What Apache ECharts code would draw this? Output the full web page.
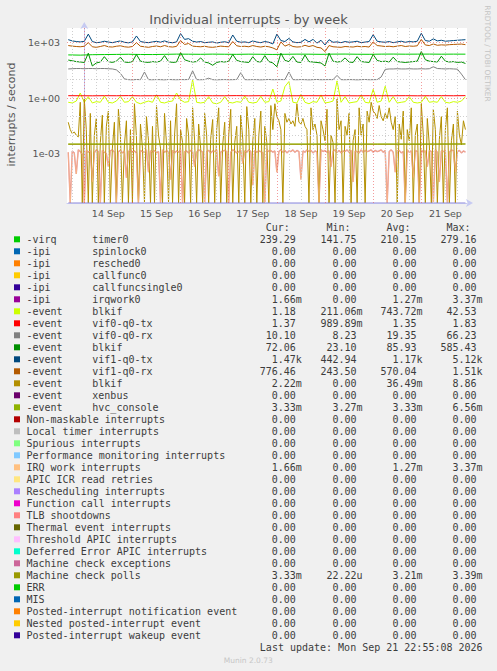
<!DOCTYPE html>
<html>
<head>
<meta charset="utf-8">
<script src="https://cdn.jsdelivr.net/npm/echarts@6/dist/echarts.min.js"></script>
<style>
html, body { margin: 0; padding: 0; background: #f0f0f0; }
#chart { width: 497px; height: 671px; }
</style>
</head>
<body>
<div id="chart"></div>
<script>
// x is hours counted from 14 Sep 00:00, every series starts at X_START
const X_START = -8
const dayLabels = ['14 Sep', '15 Sep', '16 Sep', '17 Sep', '18 Sep', '19 Sep', '20 Sep', '21 Sep']
const yTickValues = [1e-3, 1, 1e3]
const yTickLabels = ['1e-03', '1e+00', '1e+03']

// 6 h step
const timer0 = [218, 212, 224, 228, 232, 236, 230, 228, 234, 240, 238, 235, 240, 237, 234, 239, 236,
  231, 236, 240, 238, 234, 240, 242, 237, 235, 240, 242, 238, 240, 241, 238, 240, 239]
const vif0Tx = [1.36, 1.35, 1.34, 1.36, 1.35, 1.37, 1.34, 1.35, 1.36, 1.35, 1.34, 1.36, 1.35, 1.35, 1.37,
  1.34, 1.36, 1.35, 1.34, 1.35, 1.36, 1.35, 1.37, 1.35, 1.34, 1.36, 1.35, 1.35, 1.36, 1.34, 1.35, 1.36, 1.35, 1.37]
// 22 h step
const hvcConsole = [0.00333, 0.00333, 0.00334, 0.00333, 0.00333, 0.00332, 0.00333, 0.00333, 0.00334, 0.00333]
const mcPolls = [0.00321, 0.00322, 0.00321, 0.0032, 0.00322, 0.00321, 0.00321, 0.00322, 0.00321, 0.00333]
// 198 h step (one line at zero)
const postedWakeup = [0, 0]

// 2 h step
const vif1Tx = [1450, 1250, 1150, 1100, 1180, 2900, 1150, 1000, 1050, 1200,
  1080, 1000, 1120, 1250, 1050, 980, 1100, 2300, 1150, 1050,
  1000, 1100, 1180, 1060, 1250, 1050, 990, 1100, 3100, 1500,
  1650, 1200, 1080, 1150, 1000, 1050, 1100, 950, 1050, 1120,
  1000, 2600, 1200, 1050, 1100, 1000, 1250, 1080, 1000, 1150,
  1050, 850, 2900, 1300, 1150, 1700, 1100, 1000, 1050, 1500,
  1100, 1500, 950, 1350, 750, 1450, 1050, 1100, 1000, 1150,
  1050, 1100, 1200, 1000, 1080, 1150, 2700, 1200, 1100, 1050,
  1150, 1000, 1100, 1200, 1050, 1150, 1100, 1200, 3200, 1300,
  1200, 1600, 1250, 1350, 1200, 1250, 1300, 1350, 1400, 1450]
const vif1Rx = [700, 650, 620, 600, 640, 1000, 600, 560, 620, 700,
  600, 580, 640, 680, 600, 570, 620, 1000, 640, 600,
  560, 620, 660, 600, 700, 610, 580, 630, 1300, 800,
  900, 650, 620, 600, 640, 580, 560, 600, 650, 620,
  600, 1150, 680, 620, 640, 600, 700, 620, 580, 640,
  600, 520, 410, 1100, 650, 800, 620, 580, 600, 720,
  620, 700, 560, 520, 330, 700, 600, 580, 560, 620,
  600, 580, 640, 600, 620, 580, 1100, 700, 660, 620,
  640, 600, 650, 700, 620, 660, 640, 680, 1500, 750,
  700, 850, 720, 760, 740, 780, 800, 820, 840, 780]
const blkifGreen = [115, 105, 95, 90, 85, 270, 55, 80, 90, 175,
  95, 85, 100, 165, 90, 85, 95, 230, 100, 90,
  85, 95, 90, 100, 200, 95, 85, 90, 290, 120,
  100, 90, 95, 150, 90, 80, 60, 85, 95, 90,
  100, 230, 110, 95, 90, 85, 175, 95, 90, 200,
  95, 80, 50, 270, 110, 95, 180, 90, 85, 215,
  95, 90, 85, 80, 55, 270, 100, 90, 95, 150,
  90, 85, 175, 95, 90, 85, 230, 110, 95, 100,
  90, 165, 95, 90, 85, 90, 95, 100, 330, 120,
  100, 95, 90, 185, 100, 90, 95, 85, 90, 75]
const vif0Rx = [38, 39, 40, 40, 39, 40, 40, 39, 40, 40,
  39, 38, 34, 22, 11, 10, 9.8, 10.2, 10, 26,
  10, 9.9, 10.1, 10, 9.8, 10.2, 10, 9.9, 10.1, 10,
  10.2, 30, 10, 9.9, 10.1, 12, 10, 9.8, 10, 10.1,
  9.9, 10, 10.2, 24, 10, 9.9, 10.1, 10, 9.8, 10,
  10.2, 9.9, 10, 10.1, 10, 26, 10, 9.9, 10.1, 10,
  9.8, 10, 10.2, 9.9, 10, 10.1, 10, 17, 10, 9.9,
  10.1, 10, 9.8, 10, 10.2, 9.9, 10, 10.1, 14, 36,
  38, 38, 39, 38, 38, 39, 38, 38, 39, 38,
  39, 50, 40, 39, 38, 39, 38, 37, 20, 10]
const blkifLime = [0.6, 0.55, 0.7, 1.9, 0.6, 1.2, 0.55, 0.65, 0.6, 1.3,
  0.6, 0.55, 0.7, 1.25, 0.6, 0.65, 1.2, 0.6, 0.5, 0.6,
  0.7, 0.6, 1.6, 0.6, 0.55, 0.65, 0.7, 1.9, 0.8, 0.6,
  0.65, 10, 0.6, 0.55, 0.6, 1.2, 0.55, 0.5, 0.6, 1.2,
  0.6, 0.55, 0.65, 0.6, 1.3, 0.6, 0.55, 0.6, 1.25, 0.6,
  0.65, 3.1, 0.6, 0.7, 4.2, 7.9, 0.6, 0.55, 1.6, 0.6,
  0.5, 0.65, 0.6, 1.5, 0.55, 0.6, 0.7, 8.6, 0.6, 1.2,
  0.55, 0.6, 0.65, 1.5, 0.6, 0.55, 3.0, 0.6, 0.7, 4.4,
  0.6, 1.2, 0.55, 0.6, 0.65, 1.2, 0.6, 0.55, 0.6, 1.25,
  0.6, 0.65, 0.6, 1.2, 0.6, 0.55, 0.65, 0.6, 0.7, 1.2]

// 1 h step
const blkifGold = [0.05, 0.02, 0.012, 0.015, 0.01, 0.008, 0.6, 0, 0.9, 0.02,
  0, 0.15, 0, 0.01, 0.08, 0, 0.004, 0.12, 0, 0.03,
  0.2, 0, 0.002, 0.05, 0, 0.25, 0.01, 0, 0.003, 0.06,
  0, 0.02, 0, 0.5, 0.008, 0, 0.04, 0.002, 0, 0.1,
  0.005, 0, 0.03, 0, 0.4, 0.01, 0.002, 0, 0.15, 0.003,
  0, 0.06, 0, 0.01, 0.5, 0, 0.02, 0.004, 0, 0.08,
  0.01, 0, 0.3, 0.005, 0, 0.04, 0.002, 0, 0.15, 0.01,
  0, 0.006, 0.07, 0, 0.02, 0.3, 0, 0.003, 0.05, 0,
  0.01, 0.25, 0, 0.004, 0.03, 0, 0.12, 0.006, 0, 0.35,
  0.02, 0, 0.005, 0.08, 0, 0.01, 0.2, 0, 0.03, 0.004,
  0, 0.4, 0.02, 0.5, 0.1, 0.06, 0.02, 0, 0.15, 0.05,
  0.08, 0.04, 0.06, 0.03, 0.5, 0.05, 0.04, 0.08, 0.03, 0.02,
  0, 0.3, 0.02, 0.04, 0.01, 0, 0.06, 0.02, 0.005, 0.25,
  0, 0.01, 0.004, 0, 0.9, 0.02, 0.06, 0, 0.03, 0.01,
  0.15, 0, 0.005, 0.02, 0, 0.3, 0.01, 0.04, 0, 0.2,
  0.05, 0.6, 0.2, 0.15, 0.08, 0.4, 0.1, 0.06, 0.15, 0.08,
  0.3, 0.05, 0.02, 0.1, 0, 0.04, 0.006, 0.2, 0, 0.02,
  0.005, 0.3, 0, 0.01, 0.04, 0, 0.5, 0.01, 0, 0.08,
  0.003, 0, 0.25, 0.02, 0, 0.006, 0.1, 0, 0.02, 0.3,
  0, 0.005, 0.04, 0, 0.2, 0.01, 0.003, 0.06, 0.02]
const irqWork = [0.0012, 0, 0.0014, 0.0011, 0.00008, 0.0016, 0.0013, 0.0009, 0, 0.0015,
  0.0012, 0.0014, 0.00003, 0.0011, 0.0016, 0.0013, 0, 0.0015, 0.0012, 0.001,
  0.0002, 0.0014, 0.0016, 0.0012, 0, 0.0013, 0.0015, 0.0011, 0.0014, 0.00005,
  0.0013, 0.0016, 0.0012, 0.0014, 0.0011, 0, 0.0015, 0.0013, 0.0012, 0.0016,
  0.0001, 0.0014, 0.0012, 0.0015, 0.0011, 0.0013, 0, 0.0016, 0.0012, 0.0014,
  0.0013, 0.00004, 0.0015, 0.0011, 0.0014, 0.0012, 0.0016, 0, 0.0013, 0.0014,
  0.0011, 0.0015, 0.0013, 0.0002, 0.0012, 0.0016, 0.0014, 0.0012, 0, 0.0013,
  0.0015, 0.0011, 0.0014, 0.0013, 0.0016, 0.00006, 0.0012, 0.0014, 0.0015, 0.0013,
  0, 0.0012, 0.0016, 0.0014, 0.0011, 0.0013, 0.0015, 0.0003, 0.0014, 0.0012,
  0.0016, 0.0013, 0.00002, 0.0015, 0.0012, 0.0014, 0.0013, 0.0011, 0, 0.0016,
  0.0013, 0.0015, 0.0012, 0.0014, 0.0001, 0.0013, 0.0016, 0.0012, 0.0015, 0.0011,
  0.0014, 0.0013, 0.0016, 0.0012, 0.0015, 0.0013, 0.00004, 0.0014, 0.0012, 0.0016,
  0.0013, 0.0015, 0.0011, 0.0014, 0.0012, 0, 0.0016, 0.0013, 0.0015, 0.0012,
  0.0014, 0.0002, 0.0013, 0.0016, 0.0012, 0.0015, 0.0011, 0.0014, 0.0013, 0.0016,
  0.0012, 0.0015, 0.00003, 0.0014, 0.0013, 0.0011, 0.0016, 0.0012, 0.0015, 0.0013,
  0.0014, 0.0016, 0.0012, 0.0015, 0.0013, 0.0014, 0.0016, 0.0012, 0.0015, 0,
  0.0013, 0.0016, 0.0012, 0.0001, 0.0014, 0.0015, 0.0011, 0.0013, 0, 0.0016,
  0.0012, 0.0014, 0.00005, 0.0015, 0.0013, 0, 0.0016, 0.0012, 0.0014, 0.0002,
  0.0015, 0.0013, 0, 0.0016, 0.0012, 0.00003, 0.0014, 0.0013, 0.0015, 0,
  0.0012, 0.0016, 0.0014, 0.0001, 0.0013, 0.0015, 0.0011, 0.0014, 0.0012]

// legend table
const legendGroups = ['-virq', '-ipi', '-ipi', '-ipi', '-ipi', '-ipi', '-event', '-event', '-event', '-event',
  '-event', '-event', '-event', '-event', '-event']
const legendNames = ['timer0', 'spinlock0', 'resched0', 'callfunc0', 'callfuncsingle0', 'irqwork0',
  'blkif', 'vif0-q0-tx', 'vif0-q0-rx', 'blkif', 'vif1-q0-tx', 'vif1-q0-rx', 'blkif', 'xenbus', 'hvc_console',
  'Non-maskable interrupts', 'Local timer interrupts', 'Spurious interrupts', 'Performance monitoring interrupts',
  'IRQ work interrupts', 'APIC ICR read retries', 'Rescheduling interrupts', 'Function call interrupts',
  'TLB shootdowns', 'Thermal event interrupts', 'Threshold APIC interrupts', 'Deferred Error APIC interrupts',
  'Machine check exceptions', 'Machine check polls', 'ERR', 'MIS', 'Posted-interrupt notification event',
  'Nested posted-interrupt event', 'Posted-interrupt wakeup event']
const curValues = ['239.29', '0.00', '0.00', '0.00', '0.00', '1.66m', '1.18', '1.37', '10.10', '72.06',
  '1.47k', '776.46', '2.22m', '0.00', '3.33m', '0.00', '0.00', '0.00', '0.00', '1.66m',
  '0.00', '0.00', '0.00', '0.00', '0.00', '0.00', '0.00', '0.00', '3.33m', '0.00', '0.00', '0.00', '0.00', '0.00']
const minValues = ['141.75', '0.00', '0.00', '0.00', '0.00', '0.00', '211.06m', '989.89m', '8.23', '23.10',
  '442.94', '243.50', '0.00', '0.00', '3.27m', '0.00', '0.00', '0.00', '0.00', '0.00',
  '0.00', '0.00', '0.00', '0.00', '0.00', '0.00', '0.00', '0.00', '22.22u', '0.00', '0.00', '0.00', '0.00', '0.00']
const avgValues = ['210.15', '0.00', '0.00', '0.00', '0.00', '1.27m', '743.72m', '1.35', '19.35', '85.93',
  '1.17k', '570.04', '36.49m', '0.00', '3.33m', '0.00', '0.00', '0.00', '0.00', '1.27m',
  '0.00', '0.00', '0.00', '0.00', '0.00', '0.00', '0.00', '0.00', '3.21m', '0.00', '0.00', '0.00', '0.00', '0.00']
const maxValues = ['279.16', '0.00', '0.00', '0.00', '0.00', '3.37m', '42.53', '1.83', '66.23', '585.43',
  '5.12k', '1.51k', '8.86', '0.00', '6.56m', '0.00', '0.00', '0.00', '0.00', '3.37m',
  '0.00', '0.00', '0.00', '0.00', '0.00', '0.00', '0.00', '0.00', '3.39m', '0.00', '0.00', '0.00', '0.00', '0.00']
const columnHeads = ['Cur:', 'Min:', 'Avg:', 'Max:']

const legendColors = ['#00cc00', '#0066b3', '#ff8000', '#ffcc00', '#330099', '#990099', '#ccff00', '#ff0000',
  '#808080', '#008f00', '#00487d', '#b35a00', '#b38f00', '#6b006b', '#8fb300', '#b30000', '#bebebe', '#80ff80',
  '#80c9ff', '#ffc080', '#ffe680', '#aa80ff', '#ee00cc', '#ff8080', '#666600', '#ffbfff', '#00ffcc', '#cc6699',
  '#999900', '#00cc00', '#0066b3', '#ff8000', '#ffcc00', '#330099']

const Y_MIN = Math.pow(10, -5.667)
const Y_MAX = Math.pow(10, 3.793)
const X_MIN = -8.62
const X_MAX = 190.78
const MONO = '"DejaVu Sans Mono", monospace'
const SANS = '"DejaVu Sans", sans-serif'
const TEXT = '#3c3c3c'
const MINOR = '#cfcfcf'
const MAJOR = 'rgba(235, 90, 90, 0.6)'

const chart = echarts.init(document.getElementById('chart'), null, { renderer: 'svg' })

function points(values, step) {
  // zero cannot sit on a log axis, rrdtool draws it on the bottom edge
  return values.map((v, i) => [X_START + i * step, v > 0 ? v : Y_MIN])
}

// irqwork0 and the IRQ work line overlap, blended they show up salmon
const lines = [
  { data: timer0, step: 6, color: '#00cc00' },
  { data: irqWork, step: 1, color: '#e2909e', width: 1.4 },
  { data: blkifLime, step: 2, color: '#ccff00' },
  { data: vif0Tx, step: 6, color: '#ff0000' },
  { data: vif0Rx, step: 2, color: '#808080' },
  { data: blkifGreen, step: 2, color: '#008f00' },
  { data: vif1Tx, step: 2, color: '#00487d' },
  { data: vif1Rx, step: 2, color: '#b35a00' },
  { data: blkifGold, step: 1, color: '#b38f00' },
  { data: hvcConsole, step: 22, color: '#8fb300' },
  { data: irqWork, step: 1, color: '#ffc080', opacity: 0.8, width: 0.8 },
  { data: mcPolls, step: 22, color: '#999900' },
  { data: postedWakeup, step: 198, color: '#8a84d6' }
]

const gridMarks = []
for (let h = -6; h <= 186; h += 6) {
  gridMarks.push({ xAxis: h, lineStyle: { color: h % 24 === 0 ? MAJOR : MINOR } })
}
for (let p = -5; p <= 3; p++) {
  gridMarks.push({ yAxis: Math.pow(10, p), lineStyle: { color: p % 3 === 0 ? MAJOR : MINOR } })
}

const series = [{
  type: 'line', data: [], z: 1, silent: true,
  markLine: {
    silent: true, symbol: ['none', 'none'], label: { show: false },
    lineStyle: { width: 1, type: [1, 2] }, animation: false,
    data: gridMarks
  }
}].concat(lines.map(l => ({
  type: 'line', z: 3, showSymbol: false, silent: true,
  data: points(l.data, l.step),
  lineStyle: { color: l.color, width: l.width || 1, opacity: l.opacity || 1 }
})))

// legend table as text
const graphic = []
const ROW0 = 239.3, ROW = 12
const colEdges = [301.8, 362.6, 422.6, 482.6]
const columns = [curValues, minValues, avgValues, maxValues]
function txt(x, y, s, opt) {
  return {
    type: 'text', x, y, silent: true,
    style: Object.assign({
      text: s, font: '10px ' + MONO, fill: TEXT,
      align: 'left', verticalAlign: 'middle', textAlign: 'left', textVerticalAlign: 'middle'
    }, opt || {})
  }
}
columnHeads.forEach((h, c) => {
  graphic.push(txt(colEdges[c] - 12, 227.3, h, { align: 'right', textAlign: 'right' }))
})
legendNames.forEach((name, i) => {
  const y = ROW0 + i * ROW
  graphic.push({ type: 'rect', silent: true, shape: { x: 14, y: y - 3, width: 6, height: 6 }, style: { fill: legendColors[i] } })
  if (legendGroups[i]) {
    graphic.push(txt(26.5, y, legendGroups[i]))
    graphic.push(txt(92.3, y, name))
  } else {
    graphic.push(txt(26.5, y, name))
  }
  columns.forEach((col, c) => {
    const v = col[i]
    const x = /[a-z]$/.test(v) ? colEdges[c] : colEdges[c] - 6.02
    graphic.push(txt(x, y, v, { align: 'right', textAlign: 'right' }))
  })
})
graphic.push(txt(482.6, 647.6, 'Last update: Mon Sep 21 22:55:08 2026', { align: 'right', textAlign: 'right' }))
graphic.push(txt(248.3, 660, 'Munin 2.0.73', { font: '7.5px ' + SANS, fill: '#c6c6c6', align: 'center', textAlign: 'center' }))
graphic.push(txt(248.5, 19.3, 'Individual interrupts - by week', { font: '13px ' + SANS, fill: '#555', align: 'center', textAlign: 'center' }))
graphic.push(Object.assign(txt(11, 114.5, 'interrupts / second', { font: '11px ' + SANS, fill: '#555', align: 'center', textAlign: 'center' }), { rotation: Math.PI / 2 }))
graphic.push(Object.assign(txt(487.7, 53.5, 'RRDTOOL / TOBI OETIKER', { font: '7.5px ' + SANS, fill: '#c4c4c4', align: 'center', textAlign: 'center' }), { rotation: -Math.PI / 2 }))

chart.setOption({
  animation: false,
  backgroundColor: '#f0f0f0',
  grid: { left: 67, top: 28, width: 400, height: 175, show: true, backgroundColor: '#ffffff', borderWidth: 0 },
  xAxis: {
    type: 'value', min: X_MIN, max: X_MAX,
    axisLine: { show: true, lineStyle: { color: '#c6caf2', width: 1 }, symbol: ['none', 'arrow'], symbolSize: [6, 7], symbolOffset: [0, 6] },
    axisTick: { show: false },
    splitLine: { show: false },
    axisLabel: {
      customValues: dayLabels.map((_, i) => 12 + 24 * i),
      formatter: v => dayLabels[Math.round((v - 12) / 24)] || '',
      color: '#555', fontFamily: SANS, fontSize: 9.5, margin: 5
    }
  },
  yAxis: {
    type: 'log', logBase: 10, min: Y_MIN, max: Y_MAX,
    axisLine: { show: true, lineStyle: { color: '#c6caf2', width: 1 }, symbol: ['none', 'arrow'], symbolSize: [6, 7], symbolOffset: [0, 6] },
    axisTick: { show: false },
    splitLine: { show: false },
    minorSplitLine: { show: false },
    axisLabel: {
      showMinLabel: false, showMaxLabel: false,
      formatter: v => {
        const i = yTickValues.findIndex(t => Math.abs(Math.log10(v) - Math.log10(t)) < 1e-6)
        return i < 0 ? '' : yTickLabels[i]
      },
      color: '#555', fontFamily: SANS, fontSize: 9.5, margin: 7
    }
  },
  series,
  graphic
})
</script>
</body>
</html>
